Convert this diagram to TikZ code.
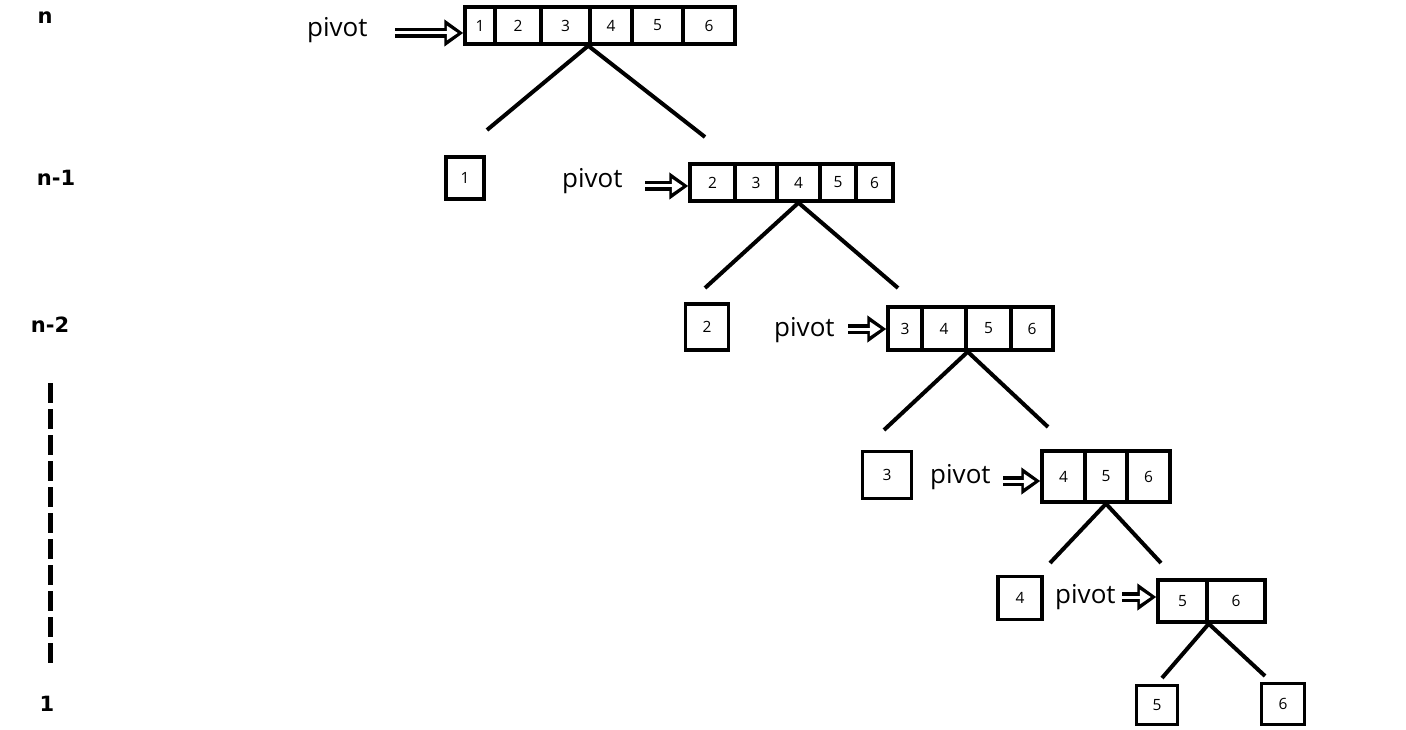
\documentclass[tikz,border=0pt]{standalone}
\usepackage{fontspec}
\setmainfont{Open Sans}
\newfontfamily\levelfont{DejaVu Sans}
\usetikzlibrary{arrows.meta}

\tikzset{
  cell/.style={draw, line width=3.5pt, inner sep=0pt, font=\fontsize{15.5}{18}\selectfont},
  leaf/.style={cell},
  pivlabel/.style={anchor=base west, inner sep=0pt, font=\fontsize{26}{30}\selectfont},
  pivarrow/.style={line width=10pt, -{Triangle[length=19pt, width=26pt]},
    postaction={draw=white, line width=3pt, shorten >=5.5pt, -{Triangle[length=11pt, width=14pt]}}},
  branch/.style={line width=4pt},
  level/.style={font=\levelfont\bfseries\fontsize{21}{24}\selectfont},
}

\begin{document}
\begin{tikzpicture}[x=1pt,y=-1pt]
\useasboundingbox (0,0) rectangle (1406,730);

% recursion depth on the left
\node[level] (lvn) at (45,18) {n};
\node[level] (lvn1) at (56,178) {n-1};
\node[level] (lvn2) at (50,325) {n-2};
\node[level] (lv1) at (47,704) {1};
\coordinate (dotstop) at (50,383);
\coordinate (dotsbot) at (50,665);
\draw[line width=5pt, dash pattern=on 20pt off 6pt] (dotstop) -- (dotsbot);

% level n
\foreach \l/\r/\t [count=\i] in {465/495/1,495/541/2,541/590/3,590/632/4,632/683/5,683/735/6}
  \node[cell, minimum width={(\r-\l)*1pt}, minimum height=37pt] (r0c\i) at ({(\l+\r)/2},25.5) {\t};
\node[pivlabel] (piv0) at (307,37) {pivot};
\coordinate (p0) at (395,33);
\draw[pivarrow] (p0) -- (p0 -| r0c1.west);
\coordinate (e0l) at (487,130);
\coordinate (e0r) at (705,137);
\draw[branch] (r0c4.south west) -- (e0l);
\draw[branch] (r0c4.south west) -- (e0r);
\node[leaf, minimum width=38pt, minimum height=42pt] (leaf1) at (465,178) {1};

% level n-1
\foreach \l/\r/\t [count=\i] in {690/735/2,735/777/3,777/820/4,820/856/5,856/893/6}
  \node[cell, minimum width={(\r-\l)*1pt}, minimum height=37pt] (r1c\i) at ({(\l+\r)/2},182.5) {\t};
\node[pivlabel] (piv1) at (562,188) {pivot};
\coordinate (p1) at (645,186);
\draw[pivarrow] (p1) -- (p1 -| r1c1.west);
\coordinate (e1l) at (705,288);
\coordinate (e1r) at (898,288);
\draw[branch] (r1c3.south) -- (e1l);
\draw[branch] (r1c3.south) -- (e1r);
\node[leaf, minimum width=43pt, minimum height=46pt] (leaf2) at (707,327) {2};

% level n-2
\foreach \l/\r/\t [count=\i] in {888/922/3,922/966/4,966/1011/5,1011/1053/6}
  \node[cell, minimum width={(\r-\l)*1pt}, minimum height=43pt] (r2c\i) at ({(\l+\r)/2},328.5) {\t};
\node[pivlabel] (piv2) at (774,336) {pivot};
\coordinate (p2) at (848,329);
\draw[pivarrow] (p2) -- (p2 -| r2c1.west);
\coordinate (e2l) at (884,430);
\coordinate (e2r) at (1048,427);
\draw[branch] (r2c2.south east) -- (e2l);
\draw[branch] (r2c2.south east) -- (e2r);
\node[leaf, minimum width=49pt, minimum height=47pt] (leaf3) at (887,475) {3};

% level n-3
\foreach \l/\r/\t [count=\i] in {1042/1085/4,1085/1127/5,1127/1170/6}
  \node[cell, minimum width={(\r-\l)*1pt}, minimum height=51pt] (r3c\i) at ({(\l+\r)/2},476.5) {\t};
\node[pivlabel] (piv3) at (930,483) {pivot};
\coordinate (p3) at (1003,481);
\draw[pivarrow] (p3) -- (p3 -| r3c1.west);
\coordinate (e3l) at (1050,563);
\coordinate (e3r) at (1161,563);
\draw[branch] (r3c2.south) -- (e3l);
\draw[branch] (r3c2.south) -- (e3r);
\node[leaf, minimum width=44pt, minimum height=43pt] (leaf4) at (1020,598) {4};

% level n-4
\foreach \l/\r/\t [count=\i] in {1158/1207/5,1207/1265/6}
  \node[cell, minimum width={(\r-\l)*1pt}, minimum height=42pt] (r4c\i) at ({(\l+\r)/2},601) {\t};
\node[pivlabel] (piv4) at (1055,603) {pivot};
\coordinate (p4) at (1122,597);
\draw[pivarrow] (p4) -- (p4 -| r4c1.west);
\coordinate (e4l) at (1162,678);
\coordinate (e4r) at (1265,676);
\draw[branch] (r4c1.south east) -- (e4l);
\draw[branch] (r4c1.south east) -- (e4r);
\node[leaf, minimum width=41pt, minimum height=39pt] (leaf5) at (1157,705) {5};
\node[leaf, minimum width=43pt, minimum height=41pt] (leaf6) at (1283,704) {6};
\end{tikzpicture}
\end{document}
